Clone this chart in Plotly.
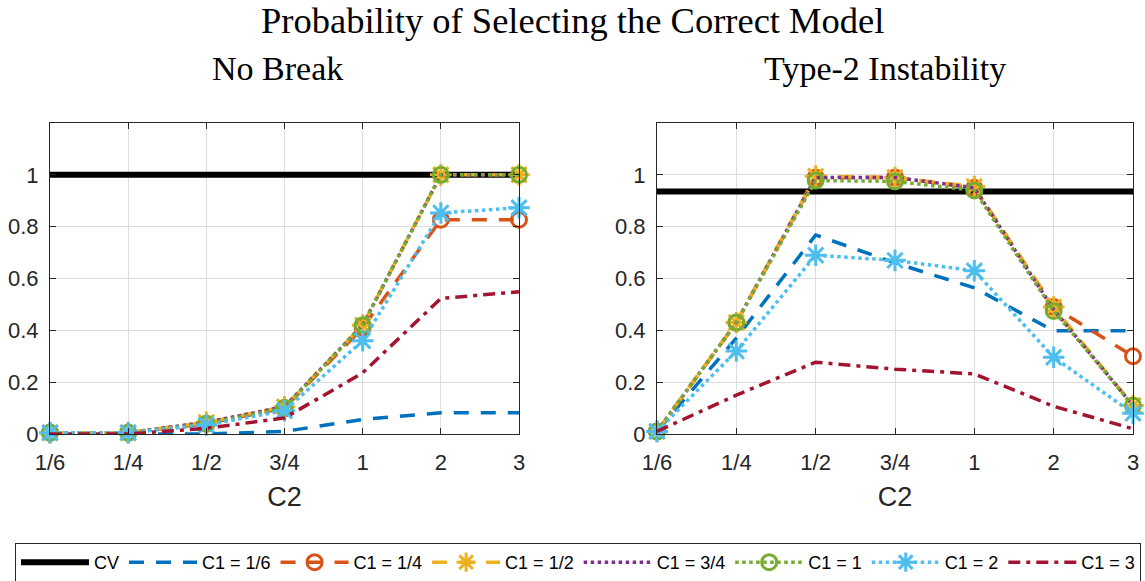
import plotly.graph_objects as go

categories = ["1/6", "1/4", "1/2", "3/4", "1", "2", "3"]
series_names = ["C1 = 1/6", "C1 = 1/4", "C1 = 1/2", "C1 = 3/4", "C1 = 1", "C1 = 2", "C1 = 3"]

# No Break panel
cv_nobreak = [1.0] * 7
nb_c1_16 = [0.0, 0.0, 0.0, 0.01, 0.056, 0.082, 0.082]
nb_c1_14 = [0.005, 0.005, 0.04, 0.10, 0.41, 0.827, 0.827]
nb_c1_12 = [0.005, 0.005, 0.045, 0.105, 0.42, 1.0, 1.0]
nb_c1_34 = [0.005, 0.005, 0.045, 0.105, 0.42, 1.0, 1.0]
nb_c1_1 = [0.005, 0.005, 0.04, 0.10, 0.42, 1.0, 1.0]
nb_c1_2 = [0.005, 0.005, 0.035, 0.09, 0.36, 0.853, 0.873]
nb_c1_3 = [0.0, 0.0, 0.022, 0.062, 0.236, 0.523, 0.549]

# Type-2 Instability panel
cv_type2 = [0.936] * 7
t2_c1_16 = [0.01, 0.37, 0.768, 0.66, 0.564, 0.398, 0.398]
t2_c1_14 = [0.01, 0.43, 0.99, 0.99, 0.95, 0.49, 0.30]
t2_c1_12 = [0.01, 0.43, 0.995, 0.99, 0.955, 0.49, 0.11]
t2_c1_34 = [0.01, 0.43, 0.99, 0.99, 0.95, 0.48, 0.11]
t2_c1_1 = [0.01, 0.43, 0.978, 0.975, 0.94, 0.475, 0.11]
t2_c1_2 = [0.01, 0.32, 0.69, 0.67, 0.63, 0.296, 0.08]
t2_c1_3 = [0.01, 0.15, 0.277, 0.25, 0.232, 0.107, 0.02]

colors = ["#0072BD", "#D95319", "#EDB120", "#7E2F8E", "#77AC30", "#4DBEEE", "#A2142F"]
dashes = ["15px,12px", "15px,12px", "15px,12px", "dot", "dot", "dot", "12px,6px,4px,6px"]
symbols = [None, "circle-open", "asterisk-open", None, "circle-open", "asterisk-open", None]

nb_series = [nb_c1_16, nb_c1_14, nb_c1_12, nb_c1_34, nb_c1_1, nb_c1_2, nb_c1_3]
t2_series = [t2_c1_16, t2_c1_14, t2_c1_12, t2_c1_34, t2_c1_1, t2_c1_2, t2_c1_3]

fig = go.Figure()

def add_panel(cv, series, xa, ya, show):
    fig.add_trace(go.Scatter(x=categories, y=cv, mode="lines", name="CV",
                             line=dict(color="black", width=6), xaxis=xa, yaxis=ya,
                             showlegend=show, legendrank=1, cliponaxis=False))
    for i, (name, vals) in enumerate(zip(series_names, series)):
        sym = symbols[i]
        if sym:
            mode = "lines+markers"
            marker = dict(symbol=sym, size=15 if "circle" in sym else 18,
                          color=colors[i], line=dict(width=3, color=colors[i]))
        else:
            mode = "lines"
            marker = None
        fig.add_trace(go.Scatter(x=categories, y=vals, mode=mode, name=name,
                                 line=dict(color=colors[i], width=3.5, dash=dashes[i]),
                                 marker=marker, xaxis=xa, yaxis=ya, showlegend=show,
                                 legendrank=i + 2, cliponaxis=False))

add_panel(cv_nobreak, nb_series, "x", "y", True)
add_panel(cv_type2, t2_series, "x2", "y2", False)

tickfont = dict(family="Liberation Sans, Arial, sans-serif", size=22, color="#262626")
axis_common = dict(showline=True, linecolor="#262626", linewidth=1.2, mirror="ticks",
                   ticks="inside", ticklen=6, tickcolor="#262626", showgrid=True,
                   gridcolor="#dcdcdc", gridwidth=1, zeroline=False, automargin=False,
                   tickfont=tickfont)
xtitle = dict(text="C2", font=dict(family="Liberation Sans, Arial", size=27, color="#262626"), standoff=13)

yticks = [0, 0.2, 0.4, 0.6, 0.8, 1]
ytext = ["0", "0.2", "0.4", "0.6", "0.8", "1"]

W, H = 1145, 581
left_dom = [50 / W, 519 / W]
right_dom = [657 / W, 1133 / W]
y_dom = [(H - 434) / H, (H - 123) / H]

fig.update_layout(
    width=W, height=H,
    margin=dict(l=0, r=0, t=0, b=0, autoexpand=False),
    paper_bgcolor="white", plot_bgcolor="white",
    xaxis=dict(domain=left_dom, type="category", categoryorder="array",
               categoryarray=categories, range=[0, 6], ticklabelstandoff=8,
               title=xtitle, **axis_common),
    yaxis=dict(domain=y_dom, range=[0, 1.2], tickvals=yticks, ticktext=ytext,
               ticklabelstandoff=6, **axis_common),
    xaxis2=dict(domain=right_dom, type="category", categoryorder="array",
                categoryarray=categories, range=[0, 6], anchor="y2", ticklabelstandoff=8,
                title=xtitle, **axis_common),
    yaxis2=dict(domain=y_dom, range=[0, 1.2], tickvals=yticks, ticktext=ytext,
                anchor="x2", ticklabelstandoff=6, **axis_common),
    legend=dict(orientation="h", x=578 / W, xanchor="center", y=1 - 562.5 / H, yanchor="middle",
                bordercolor="#262626", borderwidth=1, bgcolor="white",
                font=dict(family="Liberation Sans, Arial", size=18, color="black"),
                itemwidth=68, traceorder="normal"),
    showlegend=True,
)

serif = "Liberation Serif, Times New Roman, serif"
fig.add_annotation(text="Probability of Selecting the Correct Model", x=0.5, y=1 - 20 / H,
                   xref="paper", yref="paper", showarrow=False, xanchor="center", yanchor="middle",
                   font=dict(family=serif, size=36.5, color="black"))
fig.add_annotation(text="No Break", x=277 / W, y=1 - 69 / H,
                   xref="paper", yref="paper", showarrow=False, xanchor="center", yanchor="middle",
                   font=dict(family=serif, size=34, color="black"))
fig.add_annotation(text="Type-2 Instability", x=885 / W, y=1 - 69 / H,
                   xref="paper", yref="paper", showarrow=False, xanchor="center", yanchor="middle",
                   font=dict(family=serif, size=34, color="black"))

fig.write_html("out.html", config={"displayModeBar": False},
               post_script="document.body.style.margin='0px';")
